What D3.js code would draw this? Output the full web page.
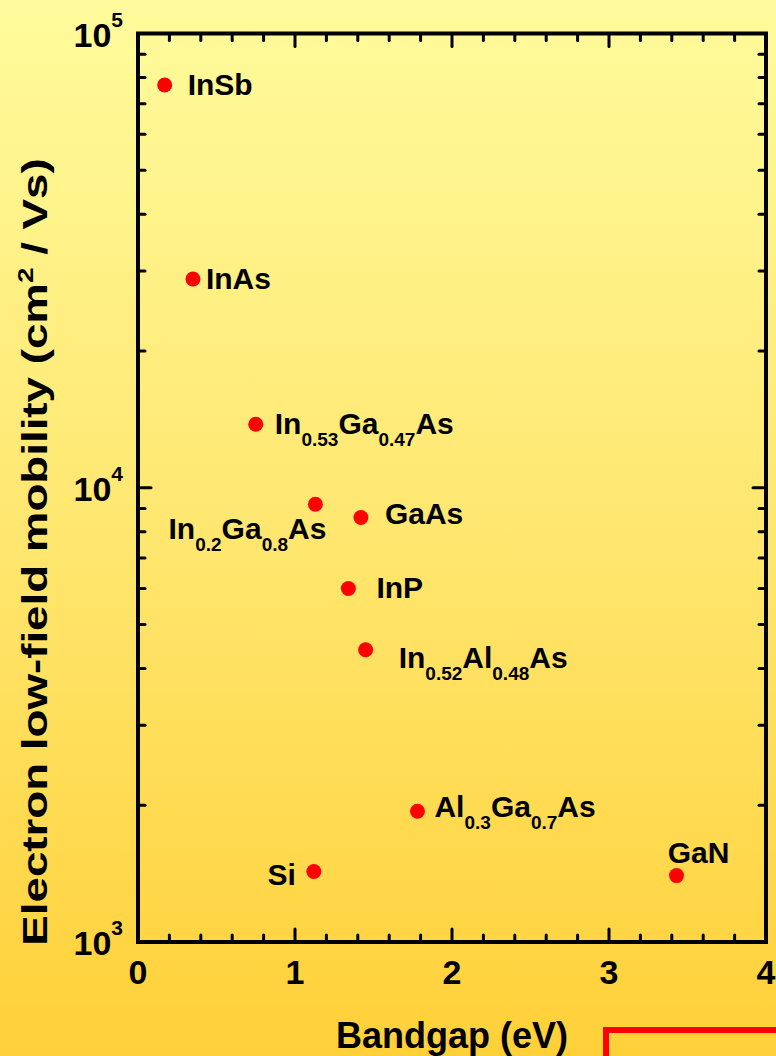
<!DOCTYPE html>
<html>
<head>
<meta charset="utf-8">
<script src="https://cdn.jsdelivr.net/npm/d3@7"></script>
<style>
  html, body { margin: 0; padding: 0; }
  svg { display: block; font-family: "Liberation Sans", Arial, sans-serif; font-weight: bold; }
</style>
</head>
<body>
<div id="chart"></div>
<script>
// Data
const materials = ["InSb", "InAs", "In_{0.53}Ga_{0.47}As", "In_{0.2}Ga_{0.8}As", "GaAs", "InP",
                   "In_{0.52}Al_{0.48}As", "Al_{0.3}Ga_{0.7}As", "Si", "GaN"];
const bandgap = [0.17, 0.35, 0.75, 1.13, 1.42, 1.34, 1.45, 1.78, 1.12, 3.43];
const mobility = [77000, 28800, 13800, 9200, 8600, 6000, 4400, 1940, 1430, 1400];
const xTicks = [0, 1, 2, 3, 4];
const yTicks = [1e3, 1e4, 1e5];
const yTickExponents = ["3", "4", "5"];

// Label placement (dx, dy from the dot, anchor)
const labelPlacement = {
  "InSb": [23, 10, "start"],
  "InAs": [13, 10, "start"],
  "In_{0.53}Ga_{0.47}As": [19, 10, "start"],
  "In_{0.2}Ga_{0.8}As": [11, 35, "end"],
  "GaAs": [24, 6, "start"],
  "InP": [28, 9, "start"],
  "In_{0.52}Al_{0.48}As": [33, 18, "start"],
  "Al_{0.3}Ga_{0.7}As": [17, 6, "start"],
  "Si": [-18, 14, "end"],
  "GaN": [22, -13, "middle"]
};

const width = 776;
const height = 1056;
const margin = {top: 33.5, right: 10, bottom: 114, left: 138};

const svg = d3.select("#chart")
  .append("svg")
    .attr("width", width)
    .attr("height", height);

// Background gradient
const grad = svg.append("defs")
  .append("linearGradient")
    .attr("id", "bg")
    .attr("x1", 0).attr("y1", 0).attr("x2", 0).attr("y2", 1);
grad.append("stop").attr("offset", "0%").attr("stop-color", "#fffb9c");
grad.append("stop").attr("offset", "50%").attr("stop-color", "#ffe770");
grad.append("stop").attr("offset", "100%").attr("stop-color", "#ffd038");
svg.append("rect")
    .attr("width", width)
    .attr("height", height)
    .attr("fill", "url(#bg)");

const x = d3.scaleLinear()
  .domain([0, 4])
  .range([margin.left, margin.left + 628]);
const y = d3.scaleLog()
  .domain([1e3, 1e5])
  .range([942, margin.top]);

const x0 = x(0), x1 = x(4), yTop = y(1e5), yBot = y(1e3);

// Ticks
const xMinor = d3.range(0, 4.001, 0.2).filter(v => Math.abs(v - Math.round(v)) > 1e-6);
const yMinor = [];
[1e3, 1e4].forEach(dec => d3.range(2, 10).forEach(k => yMinor.push(dec * k)));

const ticks = svg.append("g")
    .attr("stroke", "#000")
    .attr("stroke-width", 3)
    .attr("stroke-linecap", "round");

const xTickData = xTicks.map(v => ({v, len: 13})).concat(xMinor.map(v => ({v, len: 7})));
ticks.selectAll(".xt-bot")
  .data(xTickData)
  .join("line")
    .attr("x1", d => x(d.v)).attr("x2", d => x(d.v))
    .attr("y1", yBot).attr("y2", d => yBot - d.len);
ticks.selectAll(".xt-top")
  .data(xTickData)
  .join("line")
    .attr("x1", d => x(d.v)).attr("x2", d => x(d.v))
    .attr("y1", yTop).attr("y2", d => yTop + d.len);

const yTickData = yTicks.map(v => ({v, len: 13})).concat(yMinor.map(v => ({v, len: 7})));
ticks.selectAll(".yt-left")
  .data(yTickData)
  .join("line")
    .attr("x1", x0).attr("x2", d => x0 + d.len)
    .attr("y1", d => y(d.v)).attr("y2", d => y(d.v));
ticks.selectAll(".yt-right")
  .data(yTickData)
  .join("line")
    .attr("x1", x1).attr("x2", d => x1 - d.len)
    .attr("y1", d => y(d.v)).attr("y2", d => y(d.v));

// Frame
svg.append("rect")
    .attr("x", x0).attr("y", yTop)
    .attr("width", x1 - x0).attr("height", yBot - yTop)
    .attr("fill", "none")
    .attr("stroke", "#000")
    .attr("stroke-width", 4);

// Tick labels
svg.append("g")
  .selectAll("text")
  .data(xTicks)
  .join("text")
    .attr("x", d => x(d))
    .attr("y", 984)
    .attr("text-anchor", "middle")
    .attr("font-size", 34)
    .text(d => d);

const yLabels = svg.append("g")
  .selectAll("text")
  .data(yTicks)
  .join("text")
    .attr("x", 123)
    .attr("y", d => y(d) + 13)
    .attr("text-anchor", "end")
    .attr("font-size", 34);
yLabels.append("tspan").text("10");
yLabels.append("tspan")
    .attr("font-size", 21)
    .attr("dy", -20)
    .text((d, i) => yTickExponents[i]);

// Axis titles
svg.append("text")
    .attr("x", 452)
    .attr("y", 1048)
    .attr("text-anchor", "middle")
    .attr("font-size", 36)
    .text("Bandgap (eV)");

// the original title is stretched along its length
const yTitle = svg.append("text")
    .attr("transform", "translate(47, 552) rotate(-90) scale(1.27, 1)")
    .attr("text-anchor", "middle")
    .attr("font-size", 36);
yTitle.append("tspan").text("Electron low-field mobility (cm");
yTitle.append("tspan").attr("font-size", 22).attr("dy", -14).text("2");
yTitle.append("tspan").attr("dy", 14).text(" / Vs)");

// Points
const points = materials.map((m, i) => ({name: m, eg: bandgap[i], mu: mobility[i]}));

svg.append("g")
  .selectAll("circle")
  .data(points)
  .join("circle")
    .attr("cx", d => x(d.eg))
    .attr("cy", d => y(d.mu))
    .attr("r", 7.5)
    .attr("fill", "#ff0000");

// Labels with subscripts
const labels = svg.append("g")
  .selectAll("text")
  .data(points)
  .join("text")
    .attr("x", d => x(d.eg) + labelPlacement[d.name][0])
    .attr("y", d => y(d.mu) + labelPlacement[d.name][1])
    .attr("text-anchor", d => labelPlacement[d.name][2])
    .attr("font-size", 30);

labels.each(function(d) {
  const t = d3.select(this);
  const parts = d.name.split(/_\{([^}]*)\}/);
  let shifted = false;
  parts.forEach((p, i) => {
    if (!p) return;
    const isSub = i % 2 === 1;
    const span = t.append("tspan").text(p);
    if (isSub) {
      span.attr("font-size", 19).attr("dy", 12);
      shifted = true;
    } else if (shifted) {
      span.attr("dy", -12);
      shifted = false;
    }
  });
});

// Red box at bottom right
svg.append("rect")
    .attr("x", 606)
    .attr("y", 1030)
    .attr("width", 200)
    .attr("height", 60)
    .attr("fill", "none")
    .attr("stroke", "#ff0000")
    .attr("stroke-width", 6);
</script>
</body>
</html>
